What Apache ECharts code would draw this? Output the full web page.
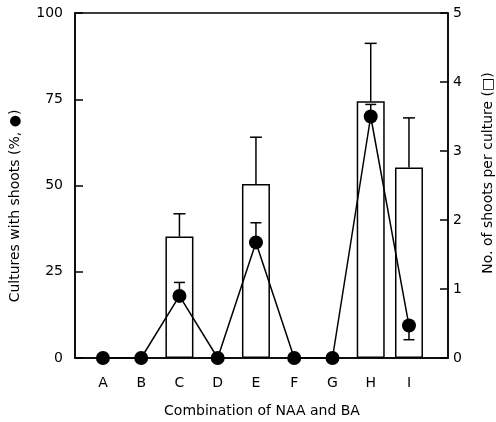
<!DOCTYPE html>
<html><head><meta charset="utf-8">
<script src="https://cdn.jsdelivr.net/npm/echarts@6/dist/echarts.min.js"></script>
<style>html,body{margin:0;padding:0;background:#fff}#c{width:496px;height:422px}</style>
</head><body><div id="c"></div>
<script>
const categories = ['A','B','C','D','E','F','G','H','I'];
// Cultures with shoots (%) — circles
const pctValues = [0, 0, 18, 0, 33.5, 0, 0, 70, 9.4];
// error end points for circles (null = none)
const pctErrEnd = [null, null, 21.9, null, 39.2, null, null, 73.5, 5.3];
// No. of shoots per culture — bars
const shootValues = [null, null, 1.76, null, 2.52, null, null, 3.72, 2.76];
const shootErrEnd = [null, null, 2.09, null, 3.20, null, null, 4.56, 3.48];
const leftTicks = [0, 25, 50, 75, 100];
const rightTicks = [0, 1, 2, 3, 4, 5];

const FONT = 'DejaVu Sans';
const FS = 14;
const LW = 1.5;
const chart = echarts.init(document.getElementById('c'));

function errSeries(vals, ends, yIdx, capW) {
  const data = [];
  vals.forEach((v, i) => { if (v !== null && ends[i] !== null) data.push([i, v, ends[i]]); });
  return {
    type: 'custom', yAxisIndex: yIdx, z: 5,
    renderItem: function (params, api) {
      const x = api.value(0);
      const p0 = api.coord([x, api.value(1)]);
      const p1 = api.coord([x, api.value(2)]);
      const st = { stroke: '#000', lineWidth: LW };
      return { type: 'group', children: [
        { type: 'line', shape: { x1: p0[0], y1: p0[1], x2: p1[0], y2: p1[1] }, style: st },
        { type: 'line', shape: { x1: p1[0] - capW / 2, y1: p1[1], x2: p1[0] + capW / 2, y2: p1[1] }, style: st }
      ]};
    },
    data: data
  };
}

const yAxisCommon = {
  type: 'value',
  axisLine: { show: true, onZero: false, lineStyle: { color: '#000', width: LW } },
  axisTick: { show: true, inside: true, length: 8, lineStyle: { color: '#000', width: LW } },
  splitLine: { show: false }
};

chart.setOption({
  animation: false,
  grid: { left: 75, right: 48, top: 13, bottom: 64, show: true, borderColor: '#000', borderWidth: LW },
  xAxis: {
    type: 'value', min: -0.73, max: 9.02,
    axisLine: { show: true, onZero: false, lineStyle: { color: '#000', width: LW } },
    axisTick: { show: false },
    splitLine: { show: false },
    axisLabel: {
      customValues: categories.map((c, i) => i),
      formatter: v => categories[Math.round(v)],
      color: '#000', fontFamily: FONT, fontSize: FS, margin: 18
    }
  },
  yAxis: [
    Object.assign({}, yAxisCommon, { min: 0, max: 100, interval: 25, position: 'left',
      axisLabel: { color: '#000', fontFamily: FONT, fontSize: FS, margin: 12 } }),
    Object.assign({}, yAxisCommon, { min: 0, max: 5, interval: 1, position: 'right',
      axisLabel: { color: '#000', fontFamily: FONT, fontSize: FS, margin: 5 } })
  ],
  graphic: [
    { type: 'text', x: 15, y: 206, rotation: Math.PI / 2,
      style: { text: 'Cultures with shoots (%, ●)', fill: '#000', font: FS + 'px "' + FONT + '"', textAlign: 'center', textVerticalAlign: 'middle' } },
    { type: 'text', x: 488, y: 173, rotation: Math.PI / 2,
      style: { text: 'No. of shoots per culture (□)', fill: '#000', font: FS + 'px "' + FONT + '"', textAlign: 'center', textVerticalAlign: 'middle' } },
    { type: 'text', x: 262, y: 411,
      style: { text: 'Combination of NAA and BA', fill: '#000', font: FS + 'px "' + FONT + '"', textAlign: 'center', textVerticalAlign: 'middle' } }
  ],
  series: [
    { type: 'bar', yAxisIndex: 1, barWidth: 28, z: 2,
      itemStyle: { color: '#fff', borderColor: '#000', borderWidth: LW },
      data: shootValues.map((v, i) => v === null ? null : [i, v]).filter(d => d) },
    errSeries(shootValues, shootErrEnd, 1, 12),
    { type: 'line', yAxisIndex: 0, z: 6, symbol: 'circle', symbolSize: 14,
      lineStyle: { color: '#000', width: LW }, itemStyle: { color: '#000' },
      data: pctValues.map((v, i) => [i, v]) },
    errSeries(pctValues, pctErrEnd, 0, 11)
  ]
});
</script></body></html>
